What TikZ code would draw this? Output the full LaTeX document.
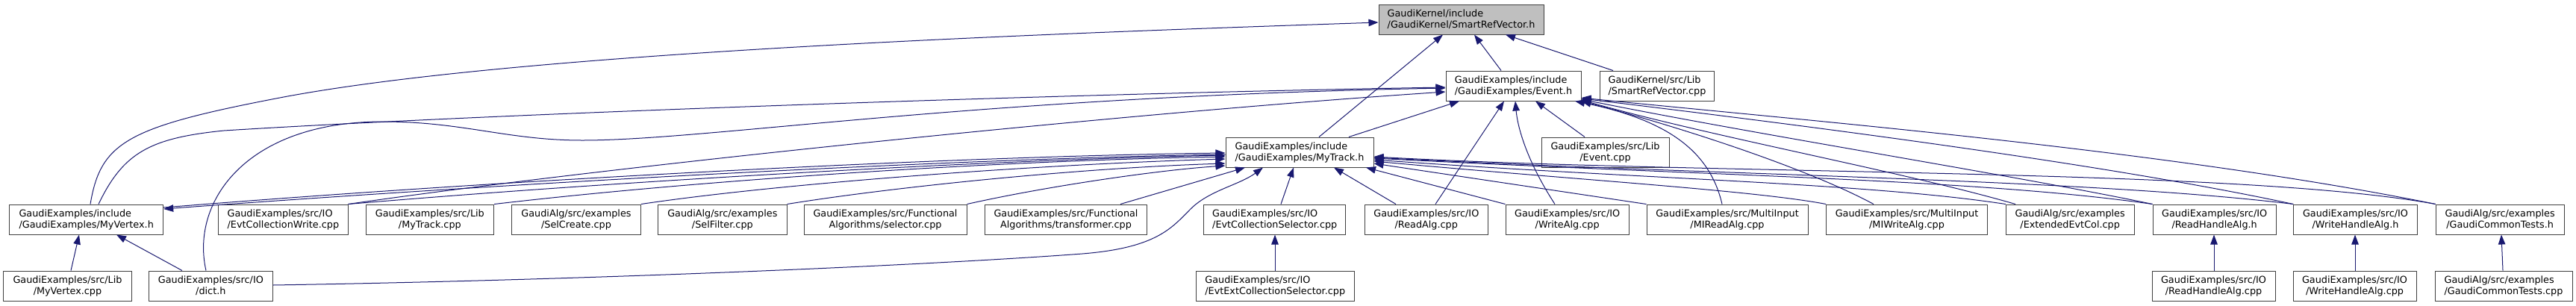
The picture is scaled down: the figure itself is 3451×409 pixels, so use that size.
\documentclass[tikz,border=0pt]{standalone}
\usepackage{fontspec}
\setmainfont{DejaVu Sans}
\usetikzlibrary{arrows.meta}
\definecolor{edgeblue}{HTML}{191970}
\definecolor{nodeborder}{HTML}{404040}
\definecolor{nodegray}{HTML}{BFBFBF}
\newcommand\twoln[2]{\vbox{\halign{##\cr#1\hfil\cr\hfil#2\hfil\cr}}}
\tikzset{
  filebox/.style={draw=nodeborder, line width=1bp, fill=white, rectangle, inner sep=0pt,
    minimum height=40bp, font=\fontsize{12.85}{15.1}\selectfont},
  edge/.style={draw=edgeblue, line width=1bp, -{Triangle[length=13bp,width=9.5bp]}},
}
\begin{document}
\begin{tikzpicture}[x=1bp,y=-1bp]
\fill[white] (0,0) rectangle (3451,409);
\useasboundingbox (0,0) rectangle (3451,409);
% row 0
\node[filebox, fill=nodegray, minimum width=221bp] (srv) at (1957.5,26) {\twoln{GaudiKernel/include}{/GaudiKernel/SmartRefVector.h}};
% row 1
\node[filebox, minimum width=181bp] (event) at (2027.5,115) {\twoln{GaudiExamples/include}{/GaudiExamples/Event.h}};
\node[filebox, minimum width=153.4bp] (srvcpp) at (2220,115) {\twoln{GaudiKernel/src/Lib}{/SmartRefVector.cpp}};
% row 2
\node[filebox, minimum width=198bp] (mytrack) at (1741,204) {\twoln{GaudiExamples/include}{/GaudiExamples/MyTrack.h}};
\node[filebox, minimum width=171bp] (eventcpp) at (2150.5,204) {\twoln{GaudiExamples/src/Lib}{/Event.cpp}};
% row 3
\node[filebox, minimum width=206bp] (myvertex) at (115.7,294) {\twoln{GaudiExamples/include}{/GaudiExamples/MyVertex.h}};
\node[filebox, minimum width=173.3bp] (evtcolwrite) at (379.35,294) {\twoln{GaudiExamples/src/IO}{/EvtCollectionWrite.cpp}};
\node[filebox, minimum width=171.7bp] (mytrackcpp) at (575.85,294) {\twoln{GaudiExamples/src/Lib}{/MyTrack.cpp}};
\node[filebox, minimum width=172.6bp] (selcreate) at (772,294) {\twoln{GaudiAlg/src/examples}{/SelCreate.cpp}};
\node[filebox, minimum width=172.3bp] (selfilter) at (967.85,294) {\twoln{GaudiAlg/src/examples}{/SelFilter.cpp}};
\node[filebox, minimum width=218bp] (selector) at (1186,294) {\twoln{GaudiExamples/src/Functional}{Algorithms/selector.cpp}};
\node[filebox, minimum width=217bp] (transformer) at (1428,294) {\twoln{GaudiExamples/src/Functional}{Algorithms/transformer.cpp}};
\node[filebox, minimum width=190bp] (evtcolsel) at (1707.75,294) {\twoln{GaudiExamples/src/IO}{/EvtCollectionSelector.cpp}};
\node[filebox, minimum width=165bp] (readalg) at (1910.8,294) {\twoln{GaudiExamples/src/IO}{/ReadAlg.cpp}};
\node[filebox, minimum width=165.3bp] (writealg) at (2099.65,294) {\twoln{GaudiExamples/src/IO}{/WriteAlg.cpp}};
\node[filebox, minimum width=216bp] (mireadalg) at (2314,294) {\twoln{GaudiExamples/src/MultiInput}{/MIReadAlg.cpp}};
\node[filebox, minimum width=215.6bp] (miwritealg) at (2554.5,294) {\twoln{GaudiExamples/src/MultiInput}{/MIWriteAlg.cpp}};
\node[filebox, minimum width=171.7bp] (extevtcol) at (2773.15,294) {\twoln{GaudiAlg/src/examples}{/ExtendedEvtCol.cpp}};
\node[filebox, minimum width=165.3bp] (readhandleh) at (2966.65,294) {\twoln{GaudiExamples/src/IO}{/ReadHandleAlg.h}};
\node[filebox, minimum width=165.6bp] (writehandleh) at (3155.5,294) {\twoln{GaudiExamples/src/IO}{/WriteHandleAlg.h}};
\node[filebox, minimum width=171.7bp] (gctestsh) at (3349.15,294) {\twoln{GaudiAlg/src/examples}{/GaudiCommonTests.h}};
% row 4
\node[filebox, minimum width=171bp] (myvertexcpp) at (90.5,383) {\twoln{GaudiExamples/src/Lib}{/MyVertex.cpp}};
\node[filebox, minimum width=165.7bp] (dict) at (282.35,383) {\twoln{GaudiExamples/src/IO}{/dict.h}};
\node[filebox, minimum width=211.5bp] (extcolsel) at (1708.25,383) {\twoln{GaudiExamples/src/IO}{/EvtExtCollectionSelector.cpp}};
\node[filebox, minimum width=165bp] (readhandlecpp) at (2965.5,383) {\twoln{GaudiExamples/src/IO}{/ReadHandleAlg.cpp}};
\node[filebox, minimum width=165bp] (writehandlecpp) at (3154.5,383) {\twoln{GaudiExamples/src/IO}{/WriteHandleAlg.cpp}};
\node[filebox, minimum width=184bp] (gctestscpp) at (3354,383) {\twoln{GaudiAlg/src/examples}{/GaudiCommonTests.cpp}};

% edges into SmartRefVector.h
\draw[edge] (121,0 |- myvertex.north) .. controls (135,190) and (170,170) .. (380,130) .. controls (700,70) and (1400,45) .. (srv.west |- 0,30);
\draw[edge] (1767,0 |- mytrack.north) -- (1933,0 |- srv.south);
\draw[edge] (2011,0 |- event.north) -- (1975,0 |- srv.south);
\draw[edge] (2161,0 |- srvcpp.north) -- (2017,0 |- srv.south);

% edges into Event.h
\draw[edge] (132,0 |- myvertex.north) .. controls (165,205) and (200,185) .. (300,175) .. controls (700,150) and (1500,124) .. (event.west |- 0,117);
\draw[edge] (276,0 |- dict.north) .. controls (255,270) and (330,163) .. (513,163) .. controls (620,163) and (680,188) .. (780,188) .. controls (950,188) and (1300,130) .. (event.west |- 0,118);
\draw[edge] (evtcolwrite.north east) .. controls (800,225) and (1500,152) .. (event.west |- 0,123);
\draw[edge] (1807,0 |- mytrack.north) -- (1955,0 |- event.south);
\draw[edge] (1923,0 |- readalg.north) -- (2015,0 |- event.south);
\draw[edge] (2083,0 |- writealg.north) .. controls (2045,215) and (2033,170) .. (2030,0 |- event.south);
\draw[edge] (2123,0 |- eventcpp.north) -- (2057,0 |- event.south);
\draw[edge] (2307,0 |- mireadalg.north) .. controls (2290,200) and (2230,160) .. (2110,0 |- event.south);
\draw[edge] (2510,0 |- miwritealg.north) .. controls (2420,225) and (2250,170) .. (event.south east);
\draw[edge] (2700,0 |- extevtcol.north) .. controls (2550,230) and (2300,185) .. (event.east |- 0,134);
\draw[edge] (readhandleh.north west) .. controls (2700,235) and (2350,180) .. (event.east |- 0,133);
\draw[edge] (writehandleh.north west) .. controls (2800,215) and (2350,160) .. (event.east |- 0,132);
\draw[edge] (gctestsh.north west) .. controls (2900,200) and (2400,160) .. (event.east |- 0,131);

% MyVertex.h <-> MyTrack.h
\draw[edge] (myvertex.east |- 0,278) .. controls (700,239) and (1300,209) .. (mytrack.west |- 0,205);
\draw[edge] (mytrack.west |- 0,207) .. controls (1300,212) and (700,244) .. (myvertex.east |- 0,280);

% edges into MyTrack.h from the left
\draw[edge] (evtcolwrite.north east) .. controls (800,245) and (1300,215) .. (mytrack.west |- 0,208);
\draw[edge] (mytrackcpp.north east) .. controls (950,240) and (1350,215) .. (mytrack.west |- 0,210);
\draw[edge] (selcreate.north east) .. controls (1050,245) and (1400,220) .. (mytrack.west |- 0,213);
\draw[edge] (selfilter.north east) .. controls (1200,250) and (1450,225) .. (mytrack.west |- 0,219);
\draw[edge] (selector.north east) .. controls (1400,250) and (1550,228) .. (mytrack.west |- 0,222);
% edges into MyTrack.h from below
\draw[edge] (1501,0 |- transformer.north) -- (1668,0 |- mytrack.south);
\draw[edge] (dict.east |- 0,382) .. controls (800,375) and (1250,355) .. (1450,340) .. controls (1550,332) and (1570,305) .. (1595,280) .. controls (1620,255) and (1660,248) .. (1692,0 |- mytrack.south);
\draw[edge] (1716,0 |- evtcolsel.north) -- (1733,0 |- mytrack.south);
\draw[edge] (1870,0 |- readalg.north) -- (1787,0 |- mytrack.south);
\draw[edge] (writealg.north west) -- (1830,0 |- mytrack.south);
% edges into MyTrack.h from the right
\draw[edge] (mireadalg.north west) -- (mytrack.east |- 0,219);
\draw[edge] (miwritealg.north west) .. controls (2350,255) and (2100,240) .. (mytrack.east |- 0,216);
\draw[edge] (extevtcol.north west) .. controls (2500,245) and (2200,240) .. (mytrack.east |- 0,214);
\draw[edge] (readhandleh.north west) .. controls (2650,240) and (2300,236) .. (mytrack.east |- 0,212);
\draw[edge] (writehandleh.north west) .. controls (2800,240) and (2300,235) .. (mytrack.east |- 0,211);
\draw[edge] (gctestsh.north west) .. controls (3000,225) and (2300,235) .. (mytrack.east |- 0,210);

% bottom row
\draw[edge] (1708,0 |- extcolsel.north) -- (1708,0 |- evtcolsel.south);
\draw[edge] (2966,0 |- readhandlecpp.north) -- (2966,0 |- readhandleh.south);
\draw[edge] (3155,0 |- writehandlecpp.north) -- (3155,0 |- writehandleh.south);
\draw[edge] (3353,0 |- gctestscpp.north) -- (3351,0 |- gctestsh.south);
\draw[edge] (95,0 |- myvertexcpp.north) -- (106,0 |- myvertex.south);
\draw[edge] (244,0 |- dict.north) -- (156,0 |- myvertex.south);
\end{tikzpicture}
\end{document}
